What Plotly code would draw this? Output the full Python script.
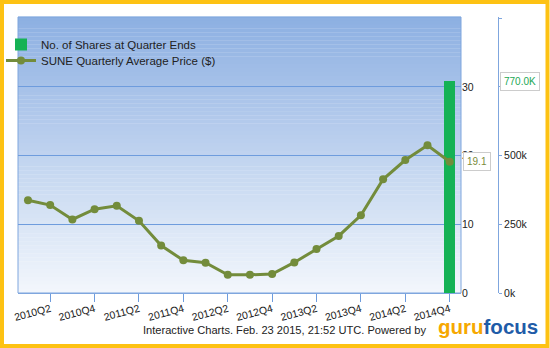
import plotly.graph_objects as go

quarters = ["2010Q1","2010Q2","2010Q3","2010Q4","2011Q1","2011Q2","2011Q3","2011Q4",
            "2012Q1","2012Q2","2012Q3","2012Q4","2013Q1","2013Q2","2013Q3","2013Q4",
            "2014Q1","2014Q2","2014Q3","2014Q4"]
price = [13.5, 12.8, 10.7, 12.2, 12.7, 10.5, 6.9, 4.75, 4.4, 2.65, 2.65, 2.75,
         4.45, 6.4, 8.3, 11.3, 16.55, 19.35, 21.5, 19.1]
shares = [0]*19 + [770000]
x_ticks = ["2010Q2","2010Q4","2011Q2","2011Q4","2012Q2","2012Q4","2013Q2","2013Q4","2014Q2","2014Q4"]
price_ticks = [0, 10, 20, 30]
share_ticks = [0, 250000, 500000, 750000, 1000000]
share_ticktext = ["0k", "250k", "500k", "", ""]

W, H = 550, 348
L, R, T, B = 18, 45, 17, 55
PW = W - L - R
PH = H - T - B
PLOT_RIGHT = 461

def px(x):
    return (x - L) / PW

def py(y):
    return (H - B - y) / PH

FONT = "Liberation Sans, Arial, sans-serif"
GRID = "#6E9CDD"

fig = go.Figure()
fig.add_trace(go.Bar(x=quarters, y=shares, name="No. of Shares at Quarter Ends",
                     marker=dict(color="#15B255", line=dict(width=0)), width=0.5,
                     yaxis="y", xaxis="x", legend="legend"))
fig.add_trace(go.Scatter(x=quarters, y=price, name="SUNE Quarterly Average Price ($)",
                         mode="lines+markers", line=dict(color="#738C3B", width=3),
                         marker=dict(color="#738C3B", size=8), yaxis="y2", xaxis="x",
                         legend="legend2"))

shapes = []
n = 70
top = (0x8D, 0xB0, 0xE2)
bot = (0xF2, 0xF6, 0xFC)
for i in range(n):
    t = i / (n - 1)
    c = tuple(int(round(top[k] + (bot[k] - top[k]) * t)) for k in range(3))
    shapes.append(dict(type="rect", xref="paper", yref="paper",
                       x0=0, x1=px(PLOT_RIGHT), y0=1 - (i + 1) / n, y1=1 - i / n + 0.001,
                       fillcolor="rgb(%d,%d,%d)" % c, line=dict(width=0), layer="below"))
shapes.append(dict(type="rect", xref="paper", yref="paper", x0=0, x1=px(PLOT_RIGHT), y0=0, y1=1,
                   line=dict(color="#7FA6DE", width=1), layer="below"))
shapes.append(dict(type="rect", xref="paper", yref="paper", x0=px(2), x1=px(547.5),
                   y0=py(346), y1=py(2), line=dict(color="#FDC213", width=4), layer="above"))

annotations = [
    dict(text="Interactive Charts. Feb. 23 2015, 21:52 UTC. Powered by", xref="paper", yref="paper",
         x=px(284), y=py(330), xanchor="center", yanchor="middle", showarrow=False,
         font=dict(family=FONT, size=11.1, color="#222222")),
    dict(text="<span style='color:#F6A800'>guru</span><span style='color:#1F5CA8'>focus</span>",
         xref="paper", yref="paper", x=px(488), y=py(326), xanchor="center", yanchor="middle",
         showarrow=False,
         font=dict(family="Liberation Sans, Arial", size=20.5, weight="bold")),
    dict(text="770.0K", xref="paper", yref="y", x=px(500), y=shares[-1], xanchor="left",
         yanchor="middle", showarrow=False, bgcolor="white", bordercolor="#CCCCCC", borderwidth=1,
         borderpad=3, font=dict(family=FONT, size=10, color="#22A855")),
    dict(text="19.1", xref="paper", yref="y2", x=px(463), y=price[-1], xanchor="left",
         yanchor="middle", showarrow=False, bgcolor="white", bordercolor="#CCCCCC", borderwidth=1,
         borderpad=3, font=dict(family=FONT, size=10, color="#7B8C3A")),
]

legend_common = dict(xanchor="left", yanchor="top", bgcolor="rgba(0,0,0,0)", xref="container",
                     font=dict(family=FONT, size=11.5, color="#222222"), itemwidth=30,
                     tracegroupgap=0)

fig.update_layout(
    width=W, height=H,
    margin=dict(l=L, r=R, t=T, b=B, autoexpand=False),
    paper_bgcolor="white", plot_bgcolor="white",
    showlegend=True,
    legend=dict(x=1.0 / W, y=py(30), **legend_common),
    legend2=dict(x=1.0 / W, y=py(46), **legend_common),
    font=dict(family=FONT, size=10, color="#222222"),
    bargap=0,
    xaxis=dict(domain=[0, px(PLOT_RIGHT)], type="category", categoryorder="array",
               categoryarray=quarters, range=[-0.45, 19.51], tickmode="array", tickvals=x_ticks,
               ticktext=x_ticks, tickangle=-15, ticks="outside", ticklen=8, tickcolor=GRID,
               showline=True, linecolor="#7FA6DE", showgrid=False, anchor="y2",
               ticklabelstandoff=-3, automargin=False,
               tickfont=dict(family=FONT, size=10.5, color="#222222")),
    yaxis=dict(range=[0, 1004000], side="right", anchor="free", position=px(498),
               tickmode="array", tickvals=share_ticks, ticktext=share_ticktext,
               ticks="outside", ticklen=3, tickcolor="#7FA6DE", showline=True,
               linecolor="#7FA6DE", showgrid=False, zeroline=False, ticklabelstandoff=0,
               automargin=False,
               tickfont=dict(family=FONT, size=10.5, color="#222222")),
    yaxis2=dict(range=[0, 40.17], side="right", overlaying="y", anchor="x",
                tickmode="array", tickvals=price_ticks, ticks="", showline=False,
                showgrid=True, gridcolor=GRID, gridwidth=1, zeroline=False, automargin=False,
                tickfont=dict(family=FONT, size=10.5, color="#222222")),
    shapes=shapes,
    annotations=annotations,
)

fig.write_html("out.html")
